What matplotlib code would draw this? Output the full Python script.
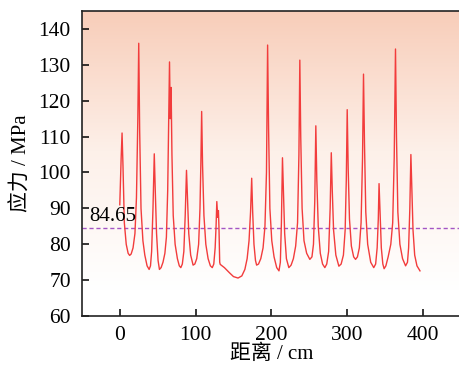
import numpy as np
import matplotlib
matplotlib.use("Agg")
from matplotlib import pyplot as plt
from matplotlib.colors import LinearSegmentedColormap

# 距离 (cm) 和 应力 (MPa)
distancia = [
    0, 1.8, 3, 4.2, 6, 8.5, 11, 13, 15, 17.5, 20, 22, 23.8, 25, 26.2, 28, 30.5, 33, 36, 38.7,
    40.5, 42, 43.8, 45.5, 46.8, 48.5, 50.5, 52.3, 54.5, 57, 59.5, 61.5, 63.2, 64.6, 65.6, 66.6,
    67.7, 68.8, 70.5, 73, 76, 78.5, 80.5, 82.5, 84.5, 86.3, 88, 89.4, 91, 93.5, 96.7, 99, 101.5,
    104, 105.8, 107, 108, 109.2, 111, 113.5, 116.5, 119.5, 122, 124, 125.8, 127, 128, 129.2,
    130.1, 130.8, 131.8, 132.5, 138, 145, 150, 156, 161, 165, 168, 170.5, 172.5, 174, 175.3,
    177, 179, 180.5, 183, 186, 189, 191.5, 193.5, 195, 196.3, 198, 200.5, 203.5, 207, 210,
    211.8, 213.2, 214.6, 215.8, 217.5, 219.8, 223, 226, 229, 232, 234.5, 236.3, 237.5, 238.7,
    240.5, 243, 246.5, 250.7, 253.5, 255.5, 257.2, 258.6, 259.9, 261.8, 264.5, 267.5, 270.5,
    273, 275.5, 277.5, 279, 280.3, 282, 285, 289, 292, 295, 297.3, 298.8, 300, 301.3, 303,
    305.5, 308.5, 311, 313.5, 316, 318.3, 320.2, 321.5, 322.8, 324.5, 327, 331, 335, 337.5,
    339.5, 341, 342, 343.3, 345, 347, 348.7, 351, 354, 357.5, 360, 362, 363.7, 365, 366.8,
    369.5, 373, 377, 379.5, 381, 382.6, 384, 385.2, 386.8, 389, 392, 396,
]
tension = [
    91, 104, 111, 102, 86, 80, 77.5, 76.9, 77.3, 79, 83, 93, 115, 136, 112, 90, 81, 77, 74, 73,
    74, 78, 90, 105.2, 95, 83, 75.5, 73, 73.5, 75, 77.5, 82, 95, 115, 130.8, 115,
    123.7, 105, 88, 80, 76, 74, 73.5, 74.5, 78, 88, 100.6, 92, 83, 77, 74.2, 74.5, 76,
    80, 90, 103, 117, 102, 88, 80, 76, 74, 73.5, 74.5, 79, 85, 91.9, 87.5,
    89.4, 85, 75, 74.4, 73.5, 72, 71, 70.6, 71.2, 73, 76, 81, 89, 98.4, 89,
    80, 75.5, 74.2, 74.5, 76, 79, 85, 100, 135.5, 112, 90, 81, 76.5, 73.5, 72.6,
    75, 86, 104.1, 95, 83, 76, 73.5, 74.2, 76, 79.5, 86, 105, 131.3, 110,
    90, 81, 77.5, 75.8, 76.5, 80, 92, 113, 98, 85, 77.5, 74.5, 73.5,
    74.5, 78, 90, 105.5, 95, 84, 77, 73.9, 74.5, 77, 84, 98, 117.5, 101, 87,
    79.5, 76.5, 75.8, 76.5, 79, 86, 104, 127.4, 108, 89, 80, 75, 73.5, 74.5,
    79, 87, 96.9, 89, 79, 74.5, 73.2, 74, 76.5, 80, 86, 104, 134.4, 110, 89,
    80, 76, 74, 75, 79, 90, 105, 96, 84, 77, 74, 72.6,
]
valor_ref = 84.65
ticks_x = [0, 100, 200, 300, 400]
ticks_y = [60, 70, 80, 90, 100, 110, 120, 130, 140]

fuente = ["Liberation Serif", "Noto Sans CJK SC"]
plt.rcParams["font.family"] = fuente

fig = plt.figure(figsize=(4.6, 3.65), dpi=100)
ax = fig.add_axes([0.178, 0.134, 0.824, 0.836])

ax.set_xlim(-50, 450)
ax.set_ylim(60, 145)

# fondo degradado
cmap = LinearSegmentedColormap.from_list("fondo", ["#ffffff", "#fdf0e9", "#f8cdb9"])
grad = np.linspace(0, 1, 256).reshape(-1, 1)
grad = np.clip((grad - 0.08) / 0.92, 0, 1)
ax.imshow(grad, extent=(-50, 450, 60, 145), origin="lower", aspect="auto",
          cmap=cmap, zorder=0)

ax.plot(distancia, tension, color="#f23c3c", lw=1.0, zorder=3)
ax.axhline(valor_ref, color="#a455c4", lw=1.0, ls=(0, (3, 2)), zorder=2)
ax.text(-40, 85.0, f"{valor_ref:.2f}", fontsize=15, va="bottom", ha="left", zorder=4)

ax.set_xticks(ticks_x)
ax.set_yticks(ticks_y)
ax.tick_params(direction="in", length=5, width=1.1, labelsize=15.5)
ax.tick_params(axis="y", pad=8)
ax.tick_params(axis="x", pad=7)
for s in ax.spines.values():
    s.set_linewidth(1.2)
    s.set_color("#222222")

ax.set_xlabel("距离 / cm", fontsize=15, labelpad=0)
ax.set_ylabel("应力 / MPa", fontsize=15, labelpad=5)

fig.savefig("out.png", dpi=100)
